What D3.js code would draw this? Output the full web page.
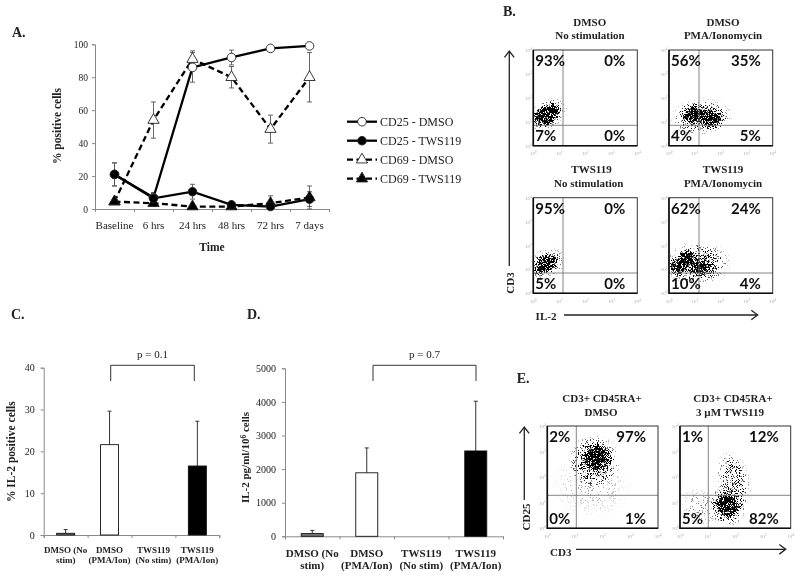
<!DOCTYPE html>
<html>
<head>
<meta charset="utf-8">
<script src="https://cdn.jsdelivr.net/npm/d3@7"></script>
<style>
  html, body { margin: 0; padding: 0; background: #fff; }
  text { font-family: "Liberation Serif", serif; fill: #222; }
</style>
</head>
<body>
<div id="chart"></div>
<script>
"use strict";

/* DATA */

// panel A
let timeLabels = ["Baseline", "6 hrs", "24 hrs", "48 hrs", "72 hrs", "7 days"];
let cd25Dmso = [21, 7, 86, 92, 97.5, 99];
let cd25DmsoErr = [7, 3, 9, 4.5, 1, 1];
let cd25Tws = [21, 6.5, 10.5, 2.5, 1.5, 6];
let cd25TwsErr = [7, 3, 4.5, 1, 1, 4.5];
let cd69Dmso = [4.5, 54, 91, 80, 48.5, 80];
let cd69DmsoErr = [1, 11, 5, 6.5, 8.5, 15];
let cd69Tws = [4.5, 3.5, 1.5, 1.5, 3.5, 7];
let cd69TwsErr = [1, 1, 1, 1, 4.5, 7];
let percentTicks = [0, 20, 40, 60, 80, 100];

// panels C and D
let stimLabels = [["DMSO (No", "stim)"], ["DMSO", "(PMA/Ion)"], ["TWS119", "(No stim)"], ["TWS119", "(PMA/Ion)"]];
let il2Percent = [0.4, 21.6, 0, 16.5];
let il2PercentTop = [1.3, 29.6, 0, 27.2];
let il2PercentTicks = [0, 10, 20, 30, 40];
let il2Conc = [80, 1890, 0, 2540];
let il2ConcTop = [175, 2630, 0, 4020];
let il2ConcTicks = [0, 1000, 2000, 3000, 4000, 5000];
let barFills = ["#777", "#fff", "#fff", "#000"];

// flow plots, clouds as [log x, log y, x radius, y radius, angle, strength]
let b1Clouds = [[0.5, 1.28, 0.62, 0.46, -35, 1.0], [0.5, 1.28, 0.62, 0.46, -35, 1.0], [0.55, 1.3, 0.85, 0.62, -35, 0.5]];
let b2Clouds = [[0.95, 1.3, 0.62, 0.52, 0, 1.0], [1.65, 1.13, 0.58, 0.48, -10, 0.95], [1.25, 1.2, 1.25, 0.8, -5, 0.5]];
let b3Clouds = [[0.47, 1.22, 0.55, 0.42, -35, 1.0], [0.47, 1.22, 0.55, 0.42, -35, 0.9], [0.5, 1.25, 0.85, 0.65, -25, 0.4]];
let b4Clouds = [[0.68, 1.48, 0.42, 0.42, 0, 1.0], [0.32, 1.1, 0.42, 0.42, 0, 1.0], [1.28, 1.1, 0.55, 0.48, 0, 1.0], [1.1, 1.25, 1.35, 0.95, 0, 0.5]];
let e1Clouds = [[1.78, 2.78, 0.6, 0.62, -30, 1.0], [1.7, 2.65, 0.95, 1.05, -20, 0.6], [1.6, 1.7, 1.5, 1.4, 0, 0.1]];
let e2Clouds = [[1.74, 0.9, 0.48, 0.58, 0, 1.0], [1.75, 0.9, 0.68, 0.9, 0, 0.6], [1.95, 1.9, 0.62, 1.2, -15, 0.4], [0.8, 0.8, 1.0, 0.85, 0, 0.14]];

// percentages in [top left, top right, bottom left, bottom right] order
let b1Percents = ["93%", "0%", "7%", "0%"];
let b2Percents = ["56%", "35%", "4%", "5%"];
let b3Percents = ["95%", "0%", "5%", "0%"];
let b4Percents = ["62%", "24%", "10%", "4%"];
let e1Percents = ["2%", "97%", "0%", "1%"];
let e2Percents = ["1%", "12%", "5%", "82%"];
let decadeTicks = [0, 1, 2, 3, 4];


/* SVG SETUP */

let svgWidth = 800;
let svgHeight = 579;

let svg = d3.select("#chart")
    .append("svg")
    .attr("width", svgWidth)
    .attr("height", svgHeight)
    .style("display", "block");

let defs = svg.append("defs");

// soft edge so the text and lines sit like the scanned figure
let softFilter = defs.append("filter").attr("id", "soft")
    .attr("filterUnits", "userSpaceOnUse")
    .attr("x", 0).attr("y", 0).attr("width", svgWidth).attr("height", svgHeight);
softFilter.append("feGaussianBlur").attr("stdDeviation", 0.42);

// radial fade used by each cloud
let fade = defs.append("radialGradient").attr("id", "fade");
fade.append("stop").attr("offset", "0%").attr("stop-color", "#000").attr("stop-opacity", 1);
fade.append("stop").attr("offset", "45%").attr("stop-color", "#000").attr("stop-opacity", 0.8);
fade.append("stop").attr("offset", "75%").attr("stop-color", "#000").attr("stop-opacity", 0.32);
fade.append("stop").attr("offset", "100%").attr("stop-color", "#000").attr("stop-opacity", 0);

// turns the smooth clouds into a speckled texture
let grain = defs.append("filter").attr("id", "grain")
    .attr("x", 0).attr("y", 0).attr("width", 1).attr("height", 1)
    .attr("color-interpolation-filters", "sRGB");
grain.append("feTurbulence")
    .attr("type", "fractalNoise").attr("baseFrequency", 1.4).attr("numOctaves", 2).attr("seed", 4)
    .attr("result", "noise");
// noise sits close to 0.5, stretch it so thin parts of a cloud still show specks
grain.append("feColorMatrix").attr("in", "noise").attr("type", "matrix")
    .attr("values", "0 0 0 0 0  0 0 0 0 0  0 0 0 0 0  3 0 0 0 -1")
    .attr("result", "noiseAlpha");
grain.append("feComposite").attr("in", "SourceAlpha").attr("in2", "noiseAlpha")
    .attr("operator", "arithmetic")
    .attr("k1", 0).attr("k2", 1).attr("k3", 1).attr("k4", -1)
    .attr("result", "mix");
let grainSteep = grain.append("feComponentTransfer").attr("in", "mix");
grainSteep.append("feFuncA").attr("type", "linear").attr("slope", 4).attr("intercept", 0);

let root = svg.append("g").attr("filter", "url(#soft)");


/* SMALL HELPERS */

function label(parent, x, y, str, size, bold, anchor) {
    return parent.append("text")
        .attr("x", x)
        .attr("y", y)
        .attr("font-size", size + "px")
        .attr("font-weight", bold ? "bold" : "normal")
        .attr("text-anchor", anchor || "middle")
        .text(str);
}

function rotatedLabel(x, y, str, size) {
    return root.append("text")
        .attr("transform", "translate(" + x + "," + y + ") rotate(-90)")
        .attr("font-size", size + "px")
        .attr("font-weight", "bold")
        .attr("text-anchor", "middle")
        .text(str);
}

function styleAxis(g, size) {
    g.select(".domain").attr("stroke", "#8a8a8a").attr("stroke-width", 1);
    g.selectAll(".tick line").attr("stroke", "#8a8a8a");
    g.selectAll(".tick text")
        .attr("font-size", size + "px")
        .attr("font-family", "Liberation Serif")
        .attr("fill", "#333");
}

function arrow(x1, y1, x2, y2) {
    let angle = Math.atan2(y2 - y1, x2 - x1);
    let headLength = 8;
    root.append("line")
        .attr("x1", x1).attr("y1", y1).attr("x2", x2).attr("y2", y2)
        .attr("stroke", "#222").attr("stroke-width", 1.3);
    root.append("path")
        .attr("d", d3.line()([
            [x2 - headLength * Math.cos(angle - 0.65), y2 - headLength * Math.sin(angle - 0.65)],
            [x2, y2],
            [x2 - headLength * Math.cos(angle + 0.65), y2 - headLength * Math.sin(angle + 0.65)]
        ]))
        .attr("fill", "none").attr("stroke", "#222").attr("stroke-width", 1.3);
}


/* PANEL A */

let aX = d3.scaleBand().domain(timeLabels).range([95, 329]);
let aY = d3.scaleLinear().domain([0, 100]).range([209, 44.3]);
let aBoundary = d3.scaleLinear().domain([0, 6]).range([95, 329]);

root.append("g")
    .attr("transform", "translate(95,0)")
    .call(d3.axisLeft(aY).tickValues(percentTicks).tickSize(3).tickPadding(4))
    .call(styleAxis, 9.5);

root.append("g")
    .attr("transform", "translate(0,209)")
    .call(d3.axisBottom(aBoundary).tickValues(d3.range(7)).tickSize(3).tickFormat(""))
    .call(styleAxis, 10);

root.append("g")
    .attr("transform", "translate(0,209)")
    .call(d3.axisBottom(aX).tickSize(0).tickPadding(12))
    .call(g => g.select(".domain").remove())
    .call(g => g.selectAll("text").attr("font-size", "11px").attr("font-family", "Liberation Serif").attr("fill", "#222"));

let aSeries = [
    { name: "CD69 - DMSO", values: cd69Dmso, errs: cd69DmsoErr, dash: "6,3.5", shape: d3.symbolTriangle, fill: "#fff" },
    { name: "CD69 - TWS119", values: cd69Tws, errs: cd69TwsErr, dash: "6,3.5", shape: d3.symbolTriangle, fill: "#000" },
    { name: "CD25 - DMSO", values: cd25Dmso, errs: cd25DmsoErr, dash: null, shape: d3.symbolCircle, fill: "#fff" },
    { name: "CD25 - TWS119", values: cd25Tws, errs: cd25TwsErr, dash: null, shape: d3.symbolCircle, fill: "#000" }
];
let aLine = d3.line()
    .x((d, i) => aX(timeLabels[i]) + aX.bandwidth() / 2)
    .y(d => aY(d));

// error bars first, they sit behind the lines
aSeries.forEach(function (s) {
    s.values.forEach(function (v, i) {
        let cx = aX(timeLabels[i]) + aX.bandwidth() / 2;
        let lo = aY(Math.max(0, v - s.errs[i]));
        let hi = aY(v + s.errs[i]);
        root.append("path")
            .attr("d", "M" + (cx - 2.5) + "," + hi + "H" + (cx + 2.5) + "M" + cx + "," + hi + "V" + lo + "M" + (cx - 2.5) + "," + lo + "H" + (cx + 2.5))
            .attr("fill", "none").attr("stroke", "#555").attr("stroke-width", 0.9);
    });
});

aSeries.forEach(function (s) {
    root.append("path")
        .attr("d", aLine(s.values))
        .attr("fill", "none").attr("stroke", "#000").attr("stroke-width", 2.3)
        .attr("stroke-dasharray", s.dash);
});

aSeries.forEach(function (s) {
    s.values.forEach(function (v, i) {
        root.append("path")
            .attr("d", d3.symbol().type(s.shape).size(s.shape === d3.symbolCircle ? 58 : 55)())
            .attr("transform", "translate(" + (aX(timeLabels[i]) + aX.bandwidth() / 2) + "," + aY(v) + ")")
            .attr("fill", s.fill).attr("stroke", "#222").attr("stroke-width", 0.9);
    });
});

rotatedLabel(61, 126, "% positive cells", 11.5);
label(root, 212, 251, "Time", 11.5, true);
label(root, 12, 37, "A.", 14, true, "start");

// legend, same order as the figure
let legendOrder = [2, 3, 0, 1];
let legendY = d3.scalePoint().domain(legendOrder).range([121.7, 178.7]);
legendOrder.forEach(function (k) {
    let s = aSeries[k];
    let y = legendY(k);
    root.append("line")
        .attr("x1", 347).attr("x2", 377).attr("y1", y).attr("y2", y)
        .attr("stroke", "#000").attr("stroke-width", 2.3)
        .attr("stroke-dasharray", s.dash);
    root.append("path")
        .attr("d", d3.symbol().type(s.shape).size(s.shape === d3.symbolCircle ? 58 : 55)())
        .attr("transform", "translate(362," + y + ")")
        .attr("fill", s.fill).attr("stroke", "#222").attr("stroke-width", 0.9);
    label(root, 380, y + 4, s.name, 12, false, "start");
});


/* PANELS C AND D */

function barPanel(opts) {
    let names = stimLabels.map(d => d.join(" "));
    let x = d3.scaleBand().domain(names).range([opts.x0, opts.x1]);
    let y = d3.scaleLinear().domain(opts.domain).range([opts.y0, opts.y1]);
    let boundary = d3.scaleLinear().domain([0, 4]).range([opts.x0, opts.x1]);

    root.append("g")
        .attr("transform", "translate(" + opts.x0 + ",0)")
        .call(d3.axisLeft(y).tickValues(opts.ticks).tickSize(3).tickPadding(6).tickFormat(d3.format("d")))
        .call(styleAxis, 10);

    root.append("g")
        .attr("transform", "translate(0," + opts.y0 + ")")
        .call(d3.axisBottom(boundary).tickValues(d3.range(5)).tickSize(3).tickFormat(""))
        .call(styleAxis, 10);

    opts.values.forEach(function (v, i) {
        let cx = x(names[i]) + x.bandwidth() / 2;
        if (v > 0) {
            root.append("line")
                .attr("x1", cx).attr("x2", cx)
                .attr("y1", y(v)).attr("y2", y(opts.tops[i]))
                .attr("stroke", "#333").attr("stroke-width", 1);
            root.append("line")
                .attr("x1", cx - 2).attr("x2", cx + 2)
                .attr("y1", y(opts.tops[i])).attr("y2", y(opts.tops[i]))
                .attr("stroke", "#333").attr("stroke-width", 1);
            root.append("rect")
                .attr("x", cx - opts.barWidth / 2)
                .attr("y", y(v))
                .attr("width", opts.barWidth)
                .attr("height", y(0) - y(v))
                .attr("fill", barFills[i])
                .attr("stroke", "#111").attr("stroke-width", 0.9);
        }
        label(root, cx, opts.y0 + opts.line1, stimLabels[i][0], opts.labelSize, true);
        label(root, cx, opts.y0 + opts.line2, stimLabels[i][1], opts.labelSize, true);
    });

    // significance bracket between the two PMA/Ion bars
    root.append("path")
        .attr("d", "M" + opts.bracket[0] + ",381V365.3H" + opts.bracket[1] + "V381")
        .attr("fill", "none").attr("stroke", "#333").attr("stroke-width", 1);
    label(root, (opts.bracket[0] + opts.bracket[1]) / 2, 357.5, opts.pLabel, 11, false);
}

barPanel({
    x0: 43.7, x1: 219.3, y0: 535, y1: 367.7, domain: [0, 40],
    ticks: il2PercentTicks, values: il2Percent, tops: il2PercentTop,
    barWidth: 18, labelSize: 9, line1: 17.7, line2: 28.3,
    bracket: [110.7, 194.3], pLabel: "p = 0.1"
});
rotatedLabel(14.5, 451.7, "% IL-2 positive cells", 11.5);
label(root, 11, 319, "C.", 14, true, "start");

barPanel({
    x0: 285, x1: 503, y0: 536.3, y1: 368.3, domain: [0, 5000],
    ticks: il2ConcTicks, values: il2Conc, tops: il2ConcTop,
    barWidth: 22, labelSize: 11, line1: 20.4, line2: 33,
    bracket: [373, 476], pLabel: "p = 0.7"
});
let concTitle = rotatedLabel(249, 457.5, "IL-2  pg/ml/10", 11);
concTitle.append("tspan").attr("dy", -3).attr("font-size", "7.5px").text("6");
concTitle.append("tspan").attr("dy", 3).text(" cells");
label(root, 247, 319, "D.", 14, true, "start");


/* FLOW PLOTS */

let clipCount = 0;

function flowPlot(opts) {
    let x = d3.scaleLinear().domain([0, 4]).range([opts.left, opts.right]);
    let y = d3.scaleLinear().domain([0, 4]).range([opts.bottom, opts.top]);
    let clipId = "plot" + (clipCount++);

    defs.append("clipPath").attr("id", clipId)
        .append("rect")
        .attr("x", opts.left).attr("y", opts.top)
        .attr("width", opts.right - opts.left).attr("height", opts.bottom - opts.top);

    let cloudGroup = root.append("g").attr("clip-path", "url(#" + clipId + ")")
        .append("g").attr("filter", "url(#grain)");

    opts.clouds.forEach(function (c) {
        cloudGroup.append("ellipse")
            .attr("rx", x(c[2]) - x(0))
            .attr("ry", y(0) - y(c[3]))
            .attr("transform", "translate(" + x(c[0]) + "," + y(c[1]) + ") rotate(" + c[4] + ")")
            .attr("fill", "url(#fade)")
            .attr("opacity", c[5]);
    });

    // quadrant dividers
    root.append("line")
        .attr("x1", opts.splitX).attr("x2", opts.splitX).attr("y1", opts.top).attr("y2", opts.bottom)
        .attr("stroke", "#777").attr("stroke-width", 0.9);
    root.append("line")
        .attr("x1", opts.left).attr("x2", opts.right).attr("y1", opts.splitY).attr("y2", opts.splitY)
        .attr("stroke", "#777").attr("stroke-width", 0.9);

    // frame, heavier on the left and bottom
    root.append("rect")
        .attr("x", opts.left).attr("y", opts.top)
        .attr("width", opts.right - opts.left).attr("height", opts.bottom - opts.top)
        .attr("fill", "none").attr("stroke", "#333").attr("stroke-width", 1);
    root.append("path")
        .attr("d", "M" + opts.left + "," + opts.top + "V" + opts.bottom + "H" + opts.right)
        .attr("fill", "none").attr("stroke", "#111").attr("stroke-width", 1.6);

    // faint log ticks
    decadeTicks.forEach(function (t) {
        let xLabel = label(root, x(t), opts.bottom + 9.5, "10", 5, false);
        xLabel.style("fill", "#aaa");
        xLabel.append("tspan").attr("dy", -2).attr("font-size", "3.5px").text(t);
        let yLabel = label(root, opts.left - 1.5, y(t) + 2, "10", 5, false, "end");
        yLabel.style("fill", "#aaa");
        yLabel.append("tspan").attr("dy", -2).attr("font-size", "3.5px").text(t);
    });

    // percentages
    let labelSpots = [
        [opts.left + 2, opts.top + 16, "start"],
        [opts.right - 12, opts.top + 16, "end"],
        [opts.left + 2, opts.bottom - 4.5, "start"],
        [opts.right - 12, opts.bottom - 4.5, "end"]
    ];
    opts.percents.forEach(function (p, i) {
        label(root, labelSpots[i][0], labelSpots[i][1], p, 15, true, labelSpots[i][2])
            .style("font-family", "Lato").style("fill", "#111");
    });
}

flowPlot({ left: 533.3, right: 637.3, top: 50, bottom: 145.7, splitX: 563, splitY: 125.3, clouds: b1Clouds, percents: b1Percents });
flowPlot({ left: 669, right: 772.7, top: 50, bottom: 145.7, splitX: 699, splitY: 125.3, clouds: b2Clouds, percents: b2Percents });
flowPlot({ left: 533.3, right: 637.3, top: 197.7, bottom: 293.3, splitX: 563, splitY: 273, clouds: b3Clouds, percents: b3Percents });
flowPlot({ left: 669, right: 772.7, top: 197.7, bottom: 293.3, splitX: 699, splitY: 273, clouds: b4Clouds, percents: b4Percents });
flowPlot({ left: 547.3, right: 658, top: 426, bottom: 528.3, splitX: 576.3, splitY: 495.3, clouds: e1Clouds, percents: e1Percents });
flowPlot({ left: 680, right: 790.7, top: 426, bottom: 528.3, splitX: 708.3, splitY: 495.3, clouds: e2Clouds, percents: e2Percents });

// panel B titles
label(root, 503, 16, "B.", 14, true, "start");
label(root, 589.7, 25.7, "DMSO", 11, true);
label(root, 590, 39, "No stimulation", 11, true);
label(root, 723, 25.7, "DMSO", 11, true);
label(root, 723, 39, "PMA/Ionomycin", 11, true);
label(root, 591.5, 173, "TWS119", 11, true);
label(root, 588.7, 187, "No stimulation", 11, true);
label(root, 723, 173, "TWS119", 11, true);
label(root, 723, 187, "PMA/Ionomycin", 11, true);

arrow(509.3, 266, 509.3, 51);
rotatedLabel(514, 283, "CD3", 11);
label(root, 546, 320, "IL-2", 11, true);
arrow(564, 315, 757.7, 315);

// panel E titles
label(root, 516.7, 382.7, "E.", 14, true, "start");
label(root, 602, 402, "CD3+ CD45RA+", 11, true);
label(root, 601, 416, "DMSO", 11, true);
label(root, 733, 402, "CD3+ CD45RA+", 11, true);
label(root, 730, 416, "3 µM TWS119", 11, true);

arrow(524.3, 500, 524.3, 427);
rotatedLabel(530, 517, "CD25", 11);
label(root, 560.7, 556, "CD3", 11, true);
arrow(576, 549.3, 785.7, 549.3);
</script>
</body>
</html>
